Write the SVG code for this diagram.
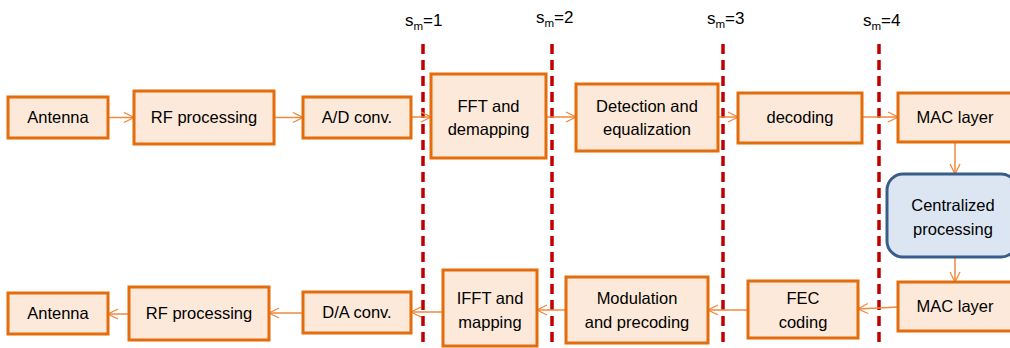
<svg xmlns="http://www.w3.org/2000/svg" width="1010" height="348" viewBox="0 0 1010 348">
<defs>
<style>
.box{fill:#fde9d9;stroke:#e46c0a;stroke-width:3}
.cp{fill:#dce6f2;stroke:#385d8a;stroke-width:3}
.t{font-family:"Liberation Sans",Arial,sans-serif;font-size:16.5px;fill:#000;text-anchor:middle}
.lab{font-family:"Liberation Sans",Arial,sans-serif;font-size:17px;fill:#000}
.sub{font-size:11.5px}
.sep{stroke:#c00000;stroke-width:3.5;stroke-dasharray:10 6;fill:none}
.c{stroke:#f0883e;stroke-width:1.5;fill:none;marker-end:url(#ah)}
</style>
<marker id="ah" viewBox="0 0 12 12" refX="11" refY="6" markerWidth="12" markerHeight="12" markerUnits="userSpaceOnUse" orient="auto">
<path d="M1,1 L11,6 L1,11" fill="none" stroke="#f0883e" stroke-width="1.3"/>
</marker>
</defs>
<rect width="1010" height="348" fill="#fff"/>

<g id="separators">
<line class="sep" x1="423" y1="44" x2="423" y2="348"/>
<line class="sep" x1="552" y1="44" x2="552" y2="348"/>
<line class="sep" x1="723" y1="44" x2="723" y2="348"/>
<line class="sep" x1="879" y1="44" x2="879" y2="348"/>
<text class="lab" x="405" y="26">s<tspan class="sub" dy="4">m</tspan><tspan dy="-4">=1</tspan></text>
<text class="lab" x="536" y="23">s<tspan class="sub" dy="4">m</tspan><tspan dy="-4">=2</tspan></text>
<text class="lab" x="707" y="24">s<tspan class="sub" dy="4">m</tspan><tspan dy="-4">=3</tspan></text>
<text class="lab" x="863" y="26">s<tspan class="sub" dy="4">m</tspan><tspan dy="-4">=4</tspan></text>
</g>

<g id="connectors">
<line class="c" x1="108" y1="117.5" x2="134" y2="117.5"/>
<line class="c" x1="274" y1="117.5" x2="303" y2="117.5"/>
<line class="c" x1="411" y1="117" x2="431" y2="117"/>
<line class="c" x1="546" y1="117" x2="576" y2="117"/>
<line class="c" x1="718" y1="117" x2="738" y2="117"/>
<line class="c" x1="862" y1="117" x2="898" y2="117"/>
<line class="c" x1="955" y1="142" x2="955" y2="174"/>
<line class="c" x1="955" y1="257" x2="955" y2="282"/>
<line class="c" x1="898" y1="307" x2="858" y2="309"/>
<line class="c" x1="748" y1="310" x2="708" y2="310"/>
<line class="c" x1="566" y1="310" x2="537" y2="310"/>
<line class="c" x1="443" y1="312" x2="411" y2="312"/>
<line class="c" x1="303" y1="313" x2="269" y2="313"/>
<line class="c" x1="129" y1="314" x2="108" y2="314"/>
</g>

<g id="antenna-rx"><rect class="box" x="8" y="97" width="100" height="41"/><text class="t" x="58" y="123">Antenna</text></g>
<g id="rf-rx"><rect class="box" x="134" y="91" width="140" height="53"/><text class="t" x="204" y="123">RF processing</text></g>
<g id="ad"><rect class="box" x="303" y="97" width="108" height="41"/><text class="t" x="357" y="123">A/D conv.</text></g>
<g id="fft"><rect class="box" x="431" y="74" width="115" height="84"/><text class="t" x="488.5" y="112">FFT and</text><text class="t" x="488.5" y="135">demapping</text></g>
<g id="detection"><rect class="box" x="576" y="84" width="142" height="67"/><text class="t" x="647" y="112">Detection and</text><text class="t" x="647" y="135">equalization</text></g>
<g id="decoding"><rect class="box" x="738" y="93" width="124" height="50"/><text class="t" x="800" y="123">decoding</text></g>
<g id="mac-rx"><rect class="box" x="898" y="93" width="115" height="49"/><text class="t" x="955" y="123">MAC layer</text></g>
<g id="central"><rect class="cp" x="887" y="174" width="130" height="83" rx="16"/><text class="t" x="953" y="211">Centralized</text><text class="t" x="953" y="235">processing</text></g>
<g id="mac-tx"><rect class="box" x="898" y="282" width="115" height="49"/><text class="t" x="955" y="312">MAC layer</text></g>
<g id="fec"><rect class="box" x="748" y="281" width="110" height="57"/><text class="t" x="803" y="304">FEC</text><text class="t" x="803" y="328">coding</text></g>
<g id="modulation"><rect class="box" x="566" y="277" width="142" height="66"/><text class="t" x="637" y="304">Modulation</text><text class="t" x="637" y="328">and precoding</text></g>
<g id="ifft"><rect class="box" x="443" y="270" width="94" height="76"/><text class="t" x="490" y="304">IFFT and</text><text class="t" x="490" y="328">mapping</text></g>
<g id="da"><rect class="box" x="303" y="292" width="108" height="41"/><text class="t" x="357" y="318">D/A conv.</text></g>
<g id="rf-tx"><rect class="box" x="129" y="287" width="140" height="53"/><text class="t" x="199" y="319">RF processing</text></g>
<g id="antenna-tx"><rect class="box" x="8" y="293" width="100" height="41"/><text class="t" x="58" y="319">Antenna</text></g>
</svg>
